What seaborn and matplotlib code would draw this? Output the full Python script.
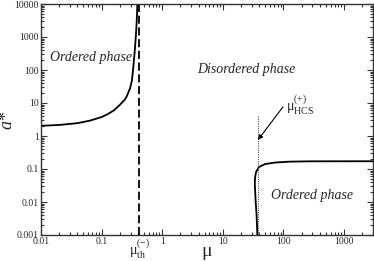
import numpy as np
import matplotlib
matplotlib.use("Agg")
import matplotlib.pyplot as plt
import matplotlib.ticker as mticker
import seaborn as sns

# ── DATA ─────────────────────────────────────────────────────────────────────
# left branch (diverges at mu_th)
left_mu = [0.01, 0.02, 0.04, 0.063, 0.1, 0.126, 0.158, 0.2, 0.24, 0.26,
           0.295, 0.316, 0.333, 0.351, 0.368, 0.38, 0.389]
left_a = [2.04, 2.16, 2.45, 2.9, 3.75, 4.6, 5.9, 8.8, 12.5, 16.0,
          28, 48, 120, 355, 1120, 3160, 10000]

# right branch (starts at mu_HCS)
right_mu = [37.1, 36.0, 34.7, 33.7, 33.9, 35.3, 39.5, 49.7, 72.6, 128, 275, 3000]
right_a = [0.001, 0.0041, 0.0115, 0.033, 0.053, 0.081, 0.115, 0.141, 0.157, 0.167, 0.171, 0.172]

mu_th = 0.42
mu_hcs = 38.0
hcs_top = 4.0

x_ticks = [0.01, 0.1, 1, 10, 100, 1000]
x_ticklabels = ["0.01", "0.1", "1", "10", "100", "1000"]
y_ticks = [0.001, 0.01, 0.1, 1, 10, 100, 1000, 10000]
y_ticklabels = ["0.001", "0.01", "0.1", "1", "10", "100", "1000", "10000"]

# ── STYLE ────────────────────────────────────────────────────────────────────
sns.set_style("ticks")
plt.rcParams["font.family"] = ["Liberation Serif", "DejaVu Serif"]
plt.rcParams["mathtext.fontset"] = "custom"
plt.rcParams["mathtext.rm"] = "Liberation Serif"
plt.rcParams["mathtext.it"] = "Liberation Serif:italic"

fig = plt.figure(figsize=(3.74, 2.61), dpi=100)
ax = fig.add_axes([41 / 374, 1 - 235 / 261, 332 / 374, 231 / 261])

sns.lineplot(x=left_mu, y=left_a, sort=False, estimator=None, color="black", lw=1.3, ax=ax)
sns.lineplot(x=right_mu, y=right_a, sort=False, estimator=None, color="black", lw=1.3, ax=ax)
ax.plot([mu_th, mu_th], [0.001, 10000], color="black", lw=1.3, ls=(0, (4.5, 2)))
ax.plot([mu_hcs, mu_hcs], [0.001, hcs_top], color="#555555", lw=0.8, ls=(0, (1, 1)))

ax.set_xscale("log")
ax.set_yscale("log")
ax.set_xlim(0.01, 3000)
ax.set_ylim(0.001, 10000)

ax.set_xticks(x_ticks)
ax.set_xticklabels(x_ticklabels)
ax.set_yticks(y_ticks)
ax.set_yticklabels(y_ticklabels)
ax.xaxis.set_minor_locator(mticker.LogLocator(base=10, subs=np.arange(2, 10), numticks=20))
ax.yaxis.set_minor_locator(mticker.LogLocator(base=10, subs=np.arange(2, 10), numticks=20))
ax.xaxis.set_minor_formatter(mticker.NullFormatter())
ax.yaxis.set_minor_formatter(mticker.NullFormatter())
ax.tick_params(which="both", direction="in", top=True, right=True, labelsize=7,
               pad=1.5, width=0.8, color="#333333")
ax.tick_params(which="major", length=4.5)
ax.tick_params(which="minor", length=2.2)
for s in ax.spines.values():
    s.set_linewidth(1.0)
    s.set_color("#333333")

ax.set_xlabel("μ", fontsize=14, labelpad=-2)
fig.text(8 / 374, 0.54, "$a$*", fontsize=13, rotation=90, ha="center", va="center")

ax.text(0.067, 245, "Ordered phase", style="italic", fontsize=10, ha="center", va="center")
ax.text(24, 100, "Disordered phase", style="italic", fontsize=10, ha="center", va="center")
ax.text(296, 0.016, "Ordered phase", style="italic", fontsize=10, ha="center", va="center")

ax.annotate("", xy=(mu_hcs, 0.76), xytext=(98, 7.6),
            arrowprops=dict(arrowstyle="-|>", color="black", lw=0.8,
                            mutation_scale=7, shrinkA=0, shrinkB=0))
ax.text(112, 8.5, r"μ$^{(+)}_{\rm HCS}$", fontsize=10, ha="left", va="center")
ax.text(mu_th, -0.012, r"μ$^{(-)}_{\rm th}$", fontsize=10, ha="center", va="top",
        transform=ax.get_xaxis_transform())

fig.savefig("out.png", dpi=100)
